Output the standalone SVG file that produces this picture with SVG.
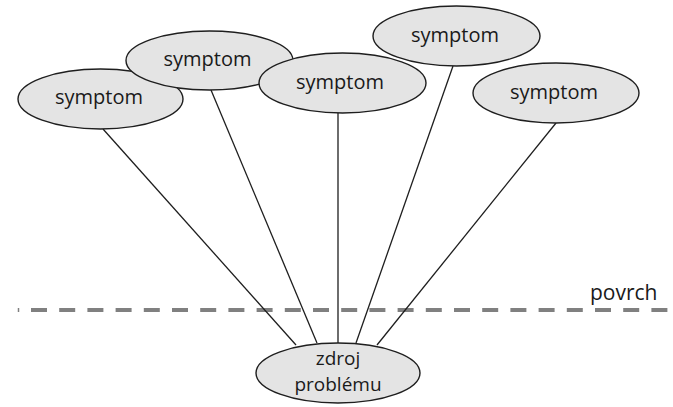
<svg xmlns="http://www.w3.org/2000/svg" width="673" height="407" viewBox="0 0 673 407">
<style>
.node ellipse{fill:#e4e4e4;stroke:#1e1e1e;stroke-width:1.4}
.node text{font-family:"Open Sans","Noto Sans",sans-serif;font-size:20px;fill:#1a1a1a;text-anchor:middle}
.node text.small{font-size:19px}
.conn line{stroke:#1e1e1e;stroke-width:1.3}
.surface{stroke:#808080;stroke-width:4;stroke-dasharray:16 12.2}
.label{font-family:"Open Sans","Noto Sans",sans-serif;font-size:21px;fill:#1a1a1a}
</style>
<rect width="673" height="407" fill="#ffffff"/>
<g id="surface">
<line class="surface" x1="31" y1="310" x2="668" y2="310"/>
<line x1="18.5" y1="308" x2="18.5" y2="312" stroke="#808080" stroke-width="1.5"/>
<text class="label" x="590" y="300">povrch</text>
</g>
<g id="connectors" class="conn">
<line x1="103" y1="129" x2="296" y2="345"/>
<line x1="211" y1="90" x2="317" y2="343"/>
<line x1="338" y1="113" x2="338" y2="343"/>
<line x1="453" y1="66" x2="356" y2="343"/>
<line x1="556" y1="123" x2="377" y2="345"/>
</g>
<g id="symptom1" class="node"><ellipse cx="100.5" cy="99" rx="82.5" ry="30"/><text x="99" y="104">symptom</text></g>
<g id="symptom2" class="node"><ellipse cx="209.5" cy="60.5" rx="83.5" ry="29.5"/><text x="207.5" y="66">symptom</text></g>
<g id="symptom3" class="node"><ellipse cx="342.5" cy="83" rx="83.5" ry="30"/><text x="340" y="89">symptom</text></g>
<g id="symptom4" class="node"><ellipse cx="456.5" cy="36" rx="83.5" ry="30"/><text x="455" y="42">symptom</text></g>
<g id="symptom5" class="node"><ellipse cx="556" cy="93" rx="83" ry="30"/><text x="554" y="99">symptom</text></g>
<g id="root" class="node"><ellipse cx="338" cy="373" rx="82" ry="30"/><text class="small" x="338" y="364.5">zdroj</text><text class="small" x="338" y="390.5">problému</text></g>
</svg>
